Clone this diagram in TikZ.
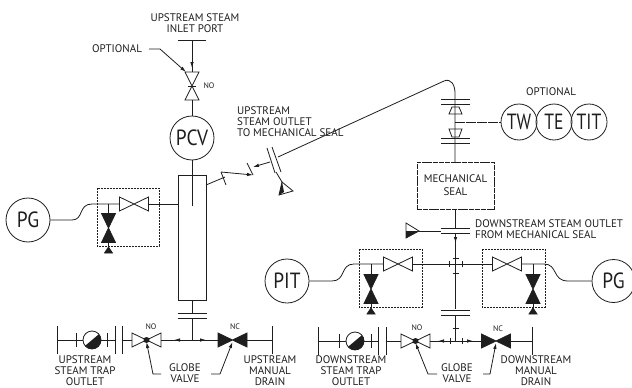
\documentclass[tikz,border=0pt]{standalone}
\usepackage{fontspec}
\setmainfont{PT Sans}
\usetikzlibrary{arrows.meta}
\definecolor{ink}{HTML}{1E1E1E}
\tikzset{
  pipe/.style = {line width = 0.8pt, draw = ink},
  flow/.style = {pipe, -{Latex[length = 6pt, width = 3.5pt]}},
  lab/.style = {font = \fontsize{11}{11}\selectfont, text = ink, align = center, inner sep = 0pt},
  tiny/.style = {font = \fontsize{8}{8}\selectfont, text = ink, inner sep = 0pt},
  inst/.style = {circle, draw = ink, line width = 0.8pt, inner sep = 0pt, font = \fontsize{22}{22}\selectfont, text = ink},
  skid/.style = {draw = ink, line width = 0.8pt, dash pattern = on 2.2pt off 0.8pt},
  hvalve/.pic = {
    \draw[pipe, fill = white] (-14.5,-7) -- (14.5,7) -- (14.5,-7) -- (-14.5,7) -- cycle;
    \coordinate (-l) at (-14.5,0); \coordinate (-r) at (14.5,0);
  },
  hclosed/.pic = {
    \draw[pipe, fill = ink] (-14.5,-7) -- (14.5,7) -- (14.5,-7) -- (-14.5,7) -- cycle;
    \coordinate (-l) at (-14.5,0); \coordinate (-r) at (14.5,0);
  },
  vclosed/.pic = {
    \draw[pipe, fill = ink] (-7,-14.5) -- (7,14.5) -- (-7,14.5) -- (7,-14.5) -- cycle;
    \coordinate (-t) at (0,-14.5); \coordinate (-b) at (0,14.5);
    \draw[pipe, fill = ink] (0,19) -- (4,25) -- (-4,25) -- cycle;
    \draw[pipe] (-b) -- (0,19);
  },
  tick/.pic = {\draw[pipe] (0,-3) -- (0,3);},
  flange/.pic = {
    \draw[pipe] (-14.5,-2.5) -- (14.5,-2.5) (-14.5,2.5) -- (14.5,2.5);
  },
  trap/.pic = {
    \fill[ink] (-40:9) arc (-40:140:9) -- cycle;
    \draw[pipe] (0,0) circle (9);
    \coordinate (-l) at (-9,0); \coordinate (-r) at (9,0);
  }
}
\begin{document}
\begin{tikzpicture}[x = 1pt, y = -1pt, line cap = butt]
\useasboundingbox (0,0) rectangle (632,388);

% upstream side
\draw
    (192,138) node[inst, minimum size = 44pt](pcv){\scalebox{0.88}[1]{PCV}}
    (28,220) node[inst, minimum size = 44pt](pgl){\scalebox{0.88}[1]{PG}}
    (287,281) node[inst, minimum size = 44pt](pit){\scalebox{0.88}[1]{PIT}}
    (613.5,281) node[inst, minimum size = 43pt](pgr){\scalebox{0.88}[1]{PG}}
    (519,122) node[inst, minimum size = 36pt](tw){\scalebox{0.8}[1]{TW}}
    (554,122) node[inst, minimum size = 36pt](te){\scalebox{0.8}[1]{TE}}
    (589,122) node[inst, minimum size = 36pt](tit){\scalebox{0.8}[1]{TIT}};

\node[lab] (inlet) at (195,23.5) {UPSTREAM STEAM\\INLET PORT};
\node[lab] (optl) at (117,49) {OPTIONAL};
\node[tiny] (no1) at (209,86) {NO};
\node[lab, anchor = north west, align = left] (outu) at (237,106.5) {UPSTREAM\\STEAM OUTLET\\TO MECHANICAL SEAL};
\node[lab] (optr) at (551,92) {OPTIONAL};
\node[lab, anchor = north west, align = left] (outd) at (475,219.5) {DOWNSTREAM STEAM OUTLET\\FROM MECHANICAL SEAL};

\node[draw = ink, line width = 0.8pt, dash pattern = on 5pt off 0.8pt, minimum width = 77pt, minimum height = 47pt, inner sep = 0pt, lab] (seal) at (455.5,185.5) {MECHANICAL\\[2pt]SEAL};
\node[draw = ink, line width = 0.8pt, minimum width = 28pt, minimum height = 125pt] (col) at (192,237.5) {};

% inlet valve
\coordinate (bar1l) at (178,40);
\coordinate (bar1r) at (206,40);
\coordinate (bar1) at (192,40);
\coordinate (inv1) at (192,72);
\coordinate (inv2) at (192,100);
\draw[pipe] (bar1l) -- (bar1r);
\draw[flow] (bar1) -- (192,68);
\draw[pipe] (192,60) -- (inv1);
\draw[pipe] (185,72) -- (199,100) -- (185,100) -- (199,72) -- cycle;
\draw[pipe] (188,86) -- (196,86);
\draw[pipe] (inv2) -- (pcv);
\coordinate (optl1) at (149,49);
\coordinate (optl2) at (160,49);
\coordinate (optl3) at (186,72);
\draw[flow] (optl1) -- (optl2) -- (optl3);

% column
\coordinate (colin) at (192,206);
\draw[pipe] (pcv.south) -- (colin);
\coordinate (colb) at (192,300);
\coordinate (tee1) at (192,340);
\pic at (192,316) {flange};
\draw[pipe] (colb) -- (192,313.5) (192,318.5) -- (tee1);

% left gauge skid
\draw[skid] (97,188) rectangle (159,246);
\pic (vl1) at (134,204) {hvalve};
\pic (vl2) at (108.5,228) {vclosed};
\coordinate (jl) at (108.5,204);
\coordinate (coll) at (178,204);
\draw[pipe] (pgl.east) -- (72,220) .. controls (84,220) and (78,204) .. (92,204) -- (vl1-l);
\draw[pipe] (jl) -- (vl2-t);
\draw[pipe] (vl1-r) -- (coll);

% bottom left row
\pic (vno1) at (146.5,340) {hvalve};
\pic (vnc1) at (232.5,340) {hclosed};
\pic (trap1) at (92,340) {trap};
\fill[ink] (146.5,340) circle (3);
\coordinate (endu1) at (57,340);
\coordinate (endu2) at (272,340);
\draw[pipe] (vno1-r) -- (vnc1-l);
\draw[pipe] (vnc1-r) -- (endu2);
\draw[pipe] (endu2) ++(0,-14) -- ++(0,28);
\draw[pipe] (endu1) -- (trap1-l);
\draw[pipe] (endu1) ++(0,-14) -- ++(0,28);
\draw[pipe] (76,333) -- (76,347);
\draw[pipe] (trap1-r) -- (115,340);
\draw[pipe] (107,333) -- (107,347);
\draw[pipe] (115,326) -- (115,354);
\draw[pipe] (122,326) -- (122,354);
\draw[pipe] (122,340) -- (vno1-l);
\draw[flow] (184,340) -- (174,340);
\draw[flow] (196,340) -- (206,340);
\node[tiny] (no2) at (151,327) {NO};
\node[tiny] (nc1) at (235,327) {NC};
\node[lab] (trapu) at (85,370.5) {UPSTREAM\\STEAM TRAP\\OUTLET};
\node[lab] (glu) at (185,373) {GLOBE\\VALVE};
\node[lab] (dru) at (270,370.5) {UPSTREAM\\MANUAL\\DRAIN};
\draw[flow] (161,374) -- (153,374) -- (146.5,342);
\draw[flow] (211,374) -- (220,374) -- (232.5,342);

% steam outlet line
\coordinate (out1) at (206,185);
\coordinate (out2) at (225,177);
\coordinate (out3) at (221,172);
\coordinate (out4) at (253,175);
\coordinate (out5) at (247,163);
\coordinate (out6) at (278,157);
\draw[pipe] (out1) -- (out2);
\draw[pipe] (out3) -- (226,185);
\draw[flow] (out3) -- (out4);
\draw[pipe] (out5) -- (out4);
\draw[flow] (270,162) -- (253,167);
\draw[pipe] (267,148) -- (275,173) (272,147) -- (281,172);
\draw[pipe] (out6) -- (444,81) .. controls (451,78) and (455,85) .. (455,93) -- (455,162);
\draw[pipe] (276,172) -- (282,182);
\draw[pipe, fill = white] (282,182) -- (293,191) -- (279,195) -- cycle;
\fill[ink] (282,182) -- (284,192) -- (279,195) -- cycle;

% seal stack
\pic at (455.5,101.5) {flange};
\pic at (455.5,140.5) {flange};
\draw[pipe] (452,107) -- (459,107) -- (462,114) -- (449,114) -- cycle;
\draw[pipe] (449,129) -- (462,129) -- (459,137) -- (452,137) -- cycle;
\draw[pipe, dash pattern = on 10pt off 1pt] (455,122) -- (tw);
\draw[pipe] (seal.south) -- (455.5,228);

% lower right
\pic at (455.5,230.5) {flange};
\fill[ink] (406,231) -- (419,231) -- (406,238) -- cycle;
\draw[pipe] (406,223) -- (419,231) -- (406,238) -- cycle;
\draw[pipe] (419,231) -- (441,231);
\draw[pipe] (455.5,233) -- (455.5,309);
\draw[flow] (455.5,233) -- (455.5,243);
\pic at (455.5,313) {flange};
\draw[pipe] (455.5,315.5) -- (455.5,341);
\pic[rotate = 90] at (455.5,328) {tick};
\pic[rotate = 90] at (455.5,258) {tick};
\pic[rotate = 90] at (455.5,273) {tick};
\pic at (449,264) {tick};
\pic at (462,264) {tick};

\draw[skid] (359,249) rectangle (422,307);
\draw[skid] (482,249) rectangle (545,307);
\pic (vr1) at (398,264) {hvalve};
\pic (vr2) at (507,264) {hvalve};
\pic (vr3) at (371,289) {vclosed};
\pic (vr4) at (533,289) {vclosed};
\draw[pipe] (pit.east) -- (332,281) .. controls (346,281) and (340,264) .. (354,264) -- (vr1-l);
\draw[pipe] (vr1-r) -- (vr2-l);
\draw[pipe] (vr2-r) -- (544,264) .. controls (558,264) and (552,281) .. (568,281) -- (pgr.west);
\draw[pipe] (371,264) -- (vr3-t);
\draw[pipe] (533,264) -- (vr4-t);

\pic (vno2) at (415.5,341) {hvalve};
\pic (vnc2) at (496,341) {hclosed};
\pic (trap2) at (355,341) {trap};
\fill[ink] (415.5,341) circle (3);
\coordinate (endd1) at (318,341);
\coordinate (endd2) at (532,341);
\draw[pipe] (vno2-r) -- (vnc2-l);
\draw[pipe] (vnc2-r) -- (endd2);
\draw[pipe] (endd2) ++(0,-14) -- ++(0,28);
\draw[pipe] (endd1) -- (trap2-l);
\draw[pipe] (endd1) ++(0,-14) -- ++(0,28);
\draw[pipe] (339,334) -- (339,348);
\draw[pipe] (trap2-r) -- (378,341);
\draw[pipe] (371,334) -- (371,348);
\draw[pipe] (378,327) -- (378,355);
\draw[pipe] (386,327) -- (386,355);
\draw[pipe] (386,341) -- (vno2-l);
\draw[flow] (448,341) -- (438,341);
\draw[flow] (463,341) -- (473,341);
\pic at (450,341) {tick};
\pic at (462,341) {tick};
\node[tiny] (no3) at (417,328) {NO};
\node[tiny] (nc2) at (498,329) {NC};
\node[lab] (trapd) at (351,370.5) {DOWNSTREAM\\STEAM TRAP\\OUTLET};
\node[lab] (gld) at (457,373) {GLOBE\\VALVE};
\node[lab] (drd) at (536,370.5) {DOWNSTREAM\\MANUAL\\DRAIN};
\draw[flow] (437,374) -- (428,374) -- (415.5,343);
\draw[flow] (483,374) -- (490,374) -- (496,343);
\end{tikzpicture}
\end{document}
